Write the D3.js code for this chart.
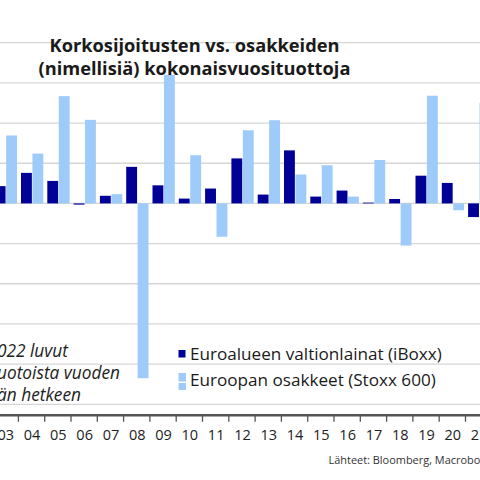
<!DOCTYPE html>
<html>
<head>
<meta charset="utf-8">
<script src="https://cdn.jsdelivr.net/npm/d3@7"></script>
<style>
  html, body { margin: 0; padding: 0; background: #fff; }
  svg { display: block; }
</style>
</head>
<body>
<svg id="chart" width="480" height="480"></svg>
<script>
// ---- data ----
const years = [2003,2004,2005,2006,2007,2008,2009,2010,2011,2012,2013,2014,2015,2016,2017,2018,2019,2020,2021];
const yearLabels = ["03","04","05","06","07","08","09","10","11","12","13","14","15","16","17","18","19","20","21"];
const bonds  = [4.3, 7.6, 5.6, -0.3, 1.9, 9.1, 4.5, 1.2, 3.7, 11.2, 2.2, 13.2, 1.7, 3.2, 0.2, 1.1, 6.9, 5.1, -3.4];
const stocks = [16.9, 12.4, 26.7, 20.8, 2.3, -43.5, 32.0, 12.0, -8.3, 18.2, 20.7, 7.2, 9.5, 1.7, 10.8, -10.5, 26.8, -1.7, 25.0];
const gridValues = [-50, -40, -30, -20, -10, 0, 10, 20, 30, 40];
const seriesNames = ["Euroalueen valtionlainat (iBoxx)", "Euroopan osakkeet (Stoxx 600)"];
const titleLines = ["Korkosijoitusten vs. osakkeiden", "(nimellisiä) kokonaisvuosituottoja"];
const noteLines = ["022 luvut", "uotoista vuoden", "än hetkeen"];
const sourceText = "Lähteet: Bloomberg, Macrobond";

const colors = { bond: "#000096", stock: "#9ecbfa" };

const svg = d3.select("#chart");
const W = 480;

// scale a text's font-size so that its rendered width matches a target
function fitSize(sel, baseSize, target, nChars) {
  const node = sel.node();
  const len = nChars ? node.getSubStringLength(0, nChars) : node.getComputedTextLength();
  return baseSize * target / len;
}

// ---- scales ----
const step = 26.3;
const x0 = d3.scaleBand().domain(years).range([-7.9, -7.9 + step * years.length]).padding(0);
const x1 = d3.scaleBand().domain(["bond", "stock"]).range([2.6, step - 1.4]).paddingInner(0.05);
const y = d3.scaleLinear().domain([-50, 40]).range([404.3, 42.7]);

// ---- gridlines ----
svg.append("g").selectAll("line").data(gridValues).join("line")
  .attr("x1", 0).attr("x2", W)
  .attr("y1", d => y(d)).attr("y2", d => y(d))
  .attr("stroke", "#d6d6d6").attr("stroke-width", 1.3);

// ---- bars ----
const rows = years.map((yr, i) => ({ year: yr, bond: bonds[i], stock: stocks[i] }));
const groups = svg.append("g").selectAll("g").data(rows).join("g")
  .attr("transform", d => `translate(${x0(d.year)},0)`);
groups.selectAll("rect").data(d => ["bond", "stock"].map(k => ({ key: k, value: d[k] }))).join("rect")
  .attr("x", d => x1(d.key))
  .attr("width", x1.bandwidth())
  .attr("y", d => y(Math.max(0, d.value)))
  .attr("height", d => Math.abs(y(d.value) - y(0)))
  .attr("fill", d => colors[d.key]);

// ---- title ----
const title = svg.append("text")
  .attr("text-anchor", "middle")
  .attr("font-family", "'Open Sans', sans-serif")
  .attr("font-weight", "bold")
  .attr("font-size", 18)
  .attr("fill", "#1a1a1a");
title.selectAll("tspan").data(titleLines).join("tspan")
  .attr("x", 194.5)
  .attr("y", (d, i) => 51.5 + i * 23.5)
  .text(d => d);
{
  const t1 = title.select("tspan").node();
  const s = 18 * 290 / t1.getComputedTextLength();
  title.attr("font-size", s);
}

// ---- x axis ----
const axisY = y(-50) + 11;
svg.append("line")
  .attr("x1", 0).attr("x2", W).attr("y1", axisY).attr("y2", axisY)
  .attr("stroke", "#555").attr("stroke-width", 2.6);
svg.append("g").selectAll("line").data(years.slice(1)).join("line")
  .attr("x1", d => x0(d)).attr("x2", d => x0(d))
  .attr("y1", axisY).attr("y2", axisY + 6.5)
  .attr("stroke", "#555").attr("stroke-width", 1.3);
svg.append("g").selectAll("text").data(years).join("text")
  .attr("x", d => x0(d) + step / 2 + 0.5)
  .attr("y", 439.5)
  .attr("text-anchor", "middle")
  .attr("font-family", "'Open Sans', sans-serif")
  .attr("font-size", 14.5)
  .attr("fill", "#222")
  .text((d, i) => yearLabels[i]);

// ---- note (italic) ----
const note = svg.append("text")
  .attr("font-family", "'Open Sans', sans-serif")
  .attr("font-style", "italic")
  .attr("font-size", 15)
  .attr("fill", "#222");
note.selectAll("tspan").data(noteLines).join("tspan")
  .attr("x", -3)
  .attr("y", (d, i) => 356.5 + i * 22)
  .text(d => d);
{
  const t2 = note.selectAll("tspan").nodes()[1];
  note.attr("font-size", 15 * 123 / t2.getComputedTextLength());
}

// ---- legend ----
const legend = svg.append("g");
legend.append("rect").attr("x", 178.5).attr("y", 350).attr("width", 7).attr("height", 7.5).attr("fill", colors.bond);
legend.append("rect").attr("x", 178.5).attr("y", 373).attr("width", 7.5).attr("height", 8.5).attr("fill", colors.stock);
legend.append("rect").attr("x", 178.5).attr("y", 383).attr("width", 7.5).attr("height", 7).attr("fill", colors.stock);
const legText = legend.selectAll("text").data(seriesNames).join("text")
  .attr("x", 190)
  .attr("y", (d, i) => 359.5 + i * 26.5)
  .attr("font-family", "'Open Sans', sans-serif")
  .attr("font-size", 15)
  .attr("fill", "#1a1a1a")
  .text(d => d);
{
  const s = fitSize(d3.select(legText.nodes()[0]), 15, 252);
  legText.attr("font-size", s);
}

// ---- source ----
const src = svg.append("text")
  .attr("x", 328.5).attr("y", 464)
  .attr("font-family", "'Open Sans', sans-serif")
  .attr("font-size", 10)
  .attr("fill", "#333")
  .text(sourceText);
src.attr("font-size", fitSize(src, 10, 152, 27));
</script>
</body>
</html>
